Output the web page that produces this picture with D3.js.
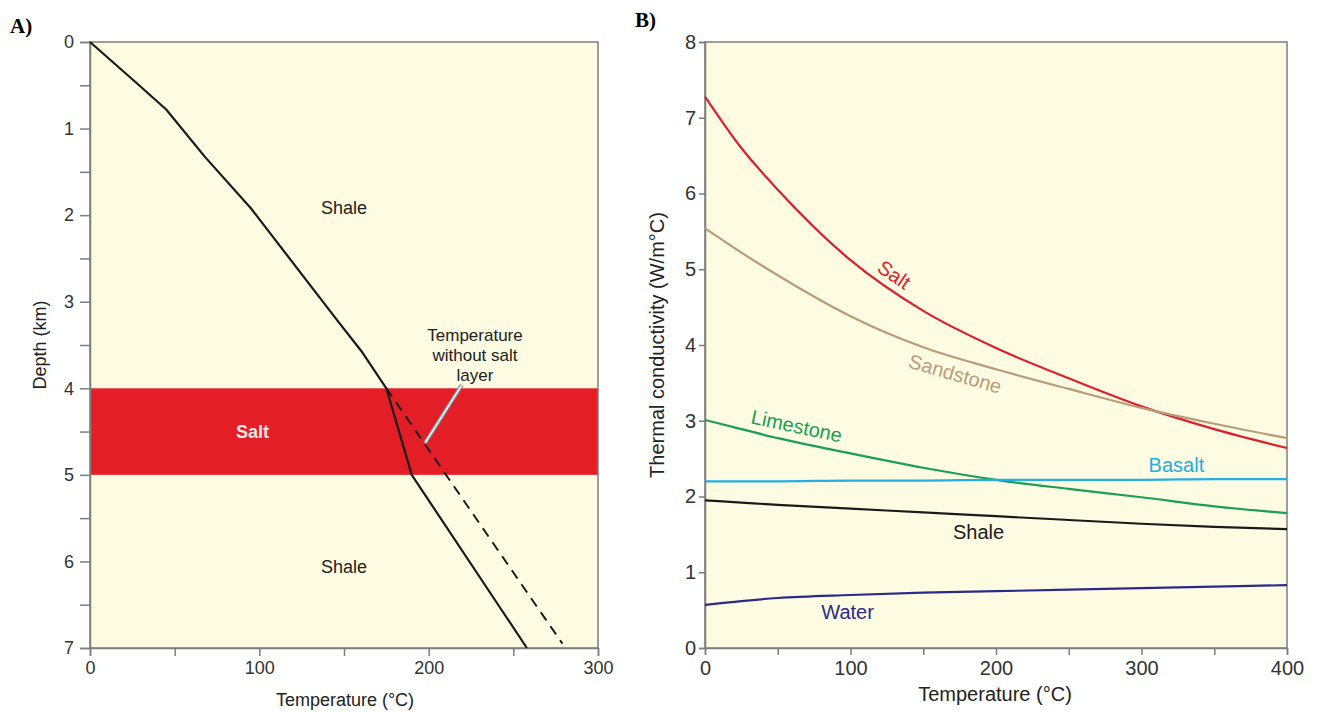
<!DOCTYPE html>
<html lang="en">
<head>
<meta charset="UTF-8">
<title>Temperature and thermal conductivity</title>
<script src="https://cdnjs.cloudflare.com/ajax/libs/d3/7.8.5/d3.min.js"></script>
<style>
  body { margin: 0; background: #fff; }
  svg text { font-family: "Liberation Sans", Arial, sans-serif; }
</style>
</head>
<body>
<div id="chart"></div>
<script>
// ---- panel A data: temperature profile with depth
var profileTemp  = [0, 29, 45, 68, 95, 145, 161, 175, 190, 258];
var profileDepth = [0, 0.5, 0.78, 1.33, 1.92, 3.19, 3.59, 4.0, 5.0, 7.0];
var noSaltTemp  = [175, 279];
var noSaltDepth = [4.0, 6.95];
var saltTop = 4, saltBase = 5;
var depthTicks = [0, 0.5, 1, 1.5, 2, 2.5, 3, 3.5, 4, 4.5, 5, 5.5, 6, 6.5, 7];
var tempTicksA = [0, 50, 100, 150, 200, 250, 300];

// ---- panel B data: thermal conductivity vs temperature
var tempB      = [0, 25, 50, 100, 150, 200, 250, 300, 350, 400];
var saltK      = [7.28, 6.60, 6.05, 5.12, 4.45, 3.96, 3.56, 3.19, 2.89, 2.64];
var sandstoneK = [5.54, 5.22, 4.92, 4.38, 3.97, 3.68, 3.42, 3.17, 2.96, 2.77];
var limestoneK = [3.01, 2.89, 2.77, 2.57, 2.38, 2.22, 2.10, 1.99, 1.87, 1.78];
var basaltK    = [2.20, 2.20, 2.20, 2.21, 2.21, 2.22, 2.22, 2.22, 2.23, 2.23];
var shaleK     = [1.95, 1.92, 1.89, 1.84, 1.79, 1.74, 1.69, 1.64, 1.60, 1.57];
var waterK     = [0.57, 0.62, 0.66, 0.70, 0.73, 0.75, 0.77, 0.79, 0.81, 0.83];
var kTicks = [0, 1, 2, 3, 4, 5, 6, 7, 8];
var tempTicksB = [0, 50, 100, 150, 200, 250, 300, 350, 400];

var width = 1322, height = 713;
var bg = "#fdfbe1", frame = "#7d7d7d";

var svg = d3.select("#chart").append("svg")
    .attr("width", width).attr("height", height);

// ================= panel A =================
var xA = d3.scaleLinear().domain([0, 300]).range([90, 598]);
var yA = d3.scaleLinear().domain([0, 7]).range([42, 648]);

var gA = svg.append("g");
gA.append("rect")
    .attr("x", xA(0)).attr("y", yA(0))
    .attr("width", xA(300) - xA(0)).attr("height", yA(7) - yA(0))
    .attr("fill", bg);

// salt layer
gA.append("rect")
    .attr("x", xA(0)).attr("y", yA(saltTop))
    .attr("width", xA(300) - xA(0)).attr("height", yA(saltBase) - yA(saltTop))
    .attr("fill", "#e31e26");

gA.append("rect")
    .attr("x", xA(0)).attr("y", yA(0))
    .attr("width", xA(300) - xA(0)).attr("height", yA(7) - yA(0))
    .attr("fill", "none").attr("stroke", frame).attr("stroke-width", 1.5);

// axes
var yAxisA = d3.axisLeft(yA).tickValues(depthTicks).tickSize(10).tickPadding(6)
    .tickFormat(function(d) { return d % 1 === 0 ? d : ""; });
var xAxisA = d3.axisBottom(xA).tickValues(tempTicksA).tickSize(8).tickPadding(5)
    .tickFormat(function(d) { return d % 100 === 0 ? d : ""; });

gA.append("g").attr("transform", "translate(" + xA(0) + ",0)").call(yAxisA);
gA.append("g").attr("transform", "translate(0," + yA(7) + ")").call(xAxisA);

// dashed "without salt" line
var lineA = d3.line()
    .x(function(d) { return xA(d[0]); })
    .y(function(d) { return yA(d[1]); });

gA.append("path")
    .datum(d3.zip(noSaltTemp, noSaltDepth))
    .attr("d", lineA)
    .attr("fill", "none").attr("stroke", "#1a1a1a")
    .attr("stroke-width", 2).attr("stroke-dasharray", "10,7");

gA.append("path")
    .datum(d3.zip(profileTemp, profileDepth))
    .attr("d", lineA)
    .attr("fill", "none").attr("stroke", "#1a1a1a")
    .attr("stroke-width", 2.2).attr("stroke-linejoin", "round");

// pointer for the annotation (outlined white line)
var ptr = [[219.6, 3.96], [197.9, 4.63]];
gA.append("path").datum(ptr).attr("d", lineA)
    .attr("stroke", "#8a8a8a").attr("stroke-width", 4).attr("fill", "none");
gA.append("path").datum(ptr).attr("d", lineA)
    .attr("stroke", "#ffffff").attr("stroke-width", 1.6).attr("fill", "none");

var annot = gA.append("text")
    .attr("x", 475).attr("y", 341)
    .attr("text-anchor", "middle").attr("font-size", 17).attr("fill", "#222");
["Temperature", "without salt", "layer"].forEach(function(t, i) {
    annot.append("tspan").attr("x", 475).attr("dy", i === 0 ? 0 : 20).text(t);
});

gA.append("text").attr("x", xA(150)).attr("y", yA(1.92) + 6)
    .attr("text-anchor", "middle").attr("font-size", 18).attr("fill", "#222").text("Shale");
gA.append("text").attr("x", xA(150)).attr("y", yA(6.07) + 6)
    .attr("text-anchor", "middle").attr("font-size", 18).attr("fill", "#222").text("Shale");
gA.append("text").attr("x", xA(96)).attr("y", yA(4.5) + 6)
    .attr("text-anchor", "middle").attr("font-size", 18).attr("font-weight", "bold")
    .attr("fill", "#fde7e2").text("Salt");

gA.append("text").attr("x", 345).attr("y", 706)
    .attr("text-anchor", "middle").attr("font-size", 18).attr("fill", "#222")
    .text("Temperature (°C)");
gA.append("text")
    .attr("transform", "translate(46,345) rotate(-90)")
    .attr("text-anchor", "middle").attr("font-size", 18).attr("fill", "#222")
    .text("Depth (km)");

// ================= panel B =================
var xB = d3.scaleLinear().domain([0, 400]).range([705, 1287]);
var yB = d3.scaleLinear().domain([0, 8]).range([648, 42]);

var gB = svg.append("g");
gB.append("rect")
    .attr("x", xB(0)).attr("y", yB(8))
    .attr("width", xB(400) - xB(0)).attr("height", yB(0) - yB(8))
    .attr("fill", bg).attr("stroke", frame).attr("stroke-width", 1.5);

var yAxisB = d3.axisLeft(yB).tickValues(kTicks).tickSize(6).tickPadding(3);
var xAxisB = d3.axisBottom(xB).tickValues(tempTicksB).tickSize(7).tickPadding(6)
    .tickFormat(function(d) { return d % 100 === 0 ? d : ""; });

gB.append("g").attr("transform", "translate(" + xB(0) + ",0)").call(yAxisB);
gB.append("g").attr("transform", "translate(0," + yB(0) + ")").call(xAxisB);

var series = [
    { name: "Salt",      values: saltK,      color: "#dc1f2f" },
    { name: "Sandstone", values: sandstoneK, color: "#b99b7c" },
    { name: "Limestone", values: limestoneK, color: "#1b9e58" },
    { name: "Basalt",    values: basaltK,    color: "#23aee4" },
    { name: "Shale",     values: shaleK,     color: "#1a1a1a" },
    { name: "Water",     values: waterK,     color: "#2a2a8c" }
];

var lineB = d3.line()
    .curve(d3.curveMonotoneX)
    .x(function(d) { return xB(d[0]); })
    .y(function(d) { return yB(d[1]); });

gB.selectAll("path.series").data(series).enter().append("path")
    .attr("class", "series")
    .attr("d", function(s) { return lineB(d3.zip(tempB, s.values)); })
    .attr("fill", "none")
    .attr("stroke", function(s) { return s.color; })
    .attr("stroke-width", 2.2);

// curve labels
var labelsB = [
    { text: "Salt",      t: 130, k: 4.93, rot: 34, color: "#dc1f2f" },
    { text: "Sandstone", t: 172, k: 3.62, rot: 16, color: "#b99b7c" },
    { text: "Limestone", t: 63,  k: 2.93, rot: 12, color: "#1b9e58" },
    { text: "Basalt",    t: 324, k: 2.42, rot: 0,  color: "#23aee4" },
    { text: "Shale",     t: 188, k: 1.53, rot: 0,  color: "#1a1a1a" },
    { text: "Water",     t: 98,  k: 0.47, rot: 0,  color: "#2a2a8c" }
];
gB.selectAll("text.lab").data(labelsB).enter().append("text")
    .attr("class", "lab")
    .attr("transform", function(d) {
        return "translate(" + xB(d.t) + "," + yB(d.k) + ") rotate(" + d.rot + ")";
    })
    .attr("text-anchor", "middle").attr("dy", "0.35em")
    .attr("font-size", 20)
    .attr("fill", function(d) { return d.color; })
    .text(function(d) { return d.text; });

gB.append("text").attr("x", 995).attr("y", 701)
    .attr("text-anchor", "middle").attr("font-size", 20).attr("fill", "#222")
    .text("Temperature (°C)");
gB.append("text")
    .attr("transform", "translate(664,345) rotate(-90)")
    .attr("text-anchor", "middle").attr("font-size", 20).attr("fill", "#222")
    .text("Thermal conductivity (W/m°C)");

// axis styling
svg.selectAll(".domain").attr("stroke", frame).attr("stroke-width", 1.5);
svg.selectAll(".tick line").attr("stroke", frame).attr("stroke-width", 1.5);
gA.selectAll(".tick text").attr("font-size", 18).attr("fill", "#333")
    .style("font-family", "'Liberation Sans', Arial, sans-serif");
gB.selectAll(".tick text").attr("font-size", 20).attr("fill", "#333")
    .style("font-family", "'Liberation Sans', Arial, sans-serif");

// panel letters
svg.append("text").attr("x", 10).attr("y", 33)
    .style("font-family", "'Liberation Serif', 'Times New Roman', serif")
    .attr("font-size", 21).attr("font-weight", "bold").text("A)");
svg.append("text").attr("x", 635).attr("y", 27)
    .style("font-family", "'Liberation Serif', 'Times New Roman', serif")
    .attr("font-size", 21).attr("font-weight", "bold").text("B)");
</script>
</body>
</html>
